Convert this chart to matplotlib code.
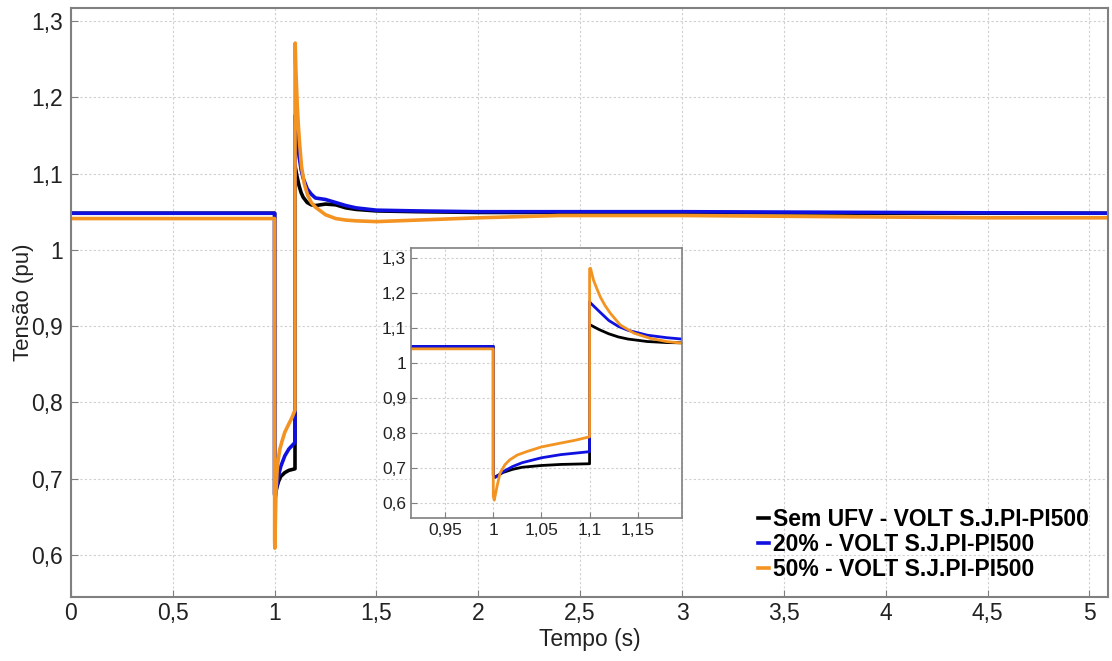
import matplotlib.pyplot as plt
from matplotlib.ticker import FuncFormatter, MultipleLocator

plt.rcParams['font.family'] = ['Liberation Sans', 'DejaVu Sans']

# Sem UFV
t_black = [0, 1.0, 1.0, 1.002, 1.01, 1.02, 1.03, 1.05, 1.07, 1.1, 1.1, 1.101, 1.11, 1.12,
           1.13, 1.14, 1.16, 1.18, 1.2, 1.25, 1.3, 1.35, 1.4, 1.5, 1.7, 2.0, 3.0, 4.0, 5.1]
v_black = [1.048, 1.048, 0.68, 0.675, 0.688, 0.697, 0.703, 0.708, 0.711, 0.713, 1.105, 1.109,
           1.096, 1.084, 1.075, 1.069, 1.062, 1.059, 1.058, 1.060, 1.059, 1.055, 1.053, 1.051,
           1.050, 1.049, 1.049, 1.048, 1.048]

# 20%
t_blue = [0, 1.0, 1.0, 1.002, 1.01, 1.02, 1.03, 1.05, 1.07, 1.1, 1.1, 1.101, 1.11, 1.12,
          1.13, 1.14, 1.16, 1.18, 1.2, 1.25, 1.3, 1.35, 1.4, 1.5, 1.7, 2.0, 3.0, 4.0, 5.1]
v_blue = [1.048, 1.048, 0.68, 0.674, 0.690, 0.705, 0.716, 0.730, 0.739, 0.7475, 1.176, 1.172,
          1.148, 1.122, 1.105, 1.094, 1.080, 1.073, 1.068, 1.066, 1.062, 1.058, 1.055, 1.052,
          1.051, 1.050, 1.050, 1.049, 1.048]

# 50%
t_orange = [0, 1.0, 1.0, 1.001, 1.004, 1.007, 1.012, 1.017, 1.025, 1.035, 1.05, 1.07, 1.085,
            1.1, 1.1, 1.101, 1.104, 1.108, 1.111, 1.116, 1.1215, 1.127, 1.132, 1.14, 1.146,
            1.155, 1.163, 1.18, 1.2, 1.25, 1.3, 1.35, 1.4, 1.5, 1.6, 1.8, 2.0, 2.4, 3.0,
            4.0, 4.5, 5.1]
v_orange = [1.041, 1.041, 0.62, 0.609, 0.65, 0.686, 0.71, 0.724, 0.738, 0.748, 0.761, 0.772,
            0.780, 0.790, 1.27, 1.271, 1.238, 1.21, 1.19, 1.165, 1.143, 1.125, 1.109, 1.096,
            1.086, 1.078, 1.071, 1.062, 1.056, 1.046, 1.041, 1.039, 1.038, 1.037, 1.038,
            1.040, 1.042, 1.045, 1.045, 1.043, 1.042, 1.042]

labels = ['Sem UFV - VOLT S.J.PI-PI500', '20% - VOLT S.J.PI-PI500', '50% - VOLT S.J.PI-PI500']
colors = ['#000000', '#1010e0', '#f39322']

comma = FuncFormatter(lambda v, p: ('%g' % round(v, 6)).replace('.', ','))
grid_kw = dict(color='#cfcfcf', linestyle=(0, (2, 2)), linewidth=0.8)

fig = plt.figure(figsize=(11.12, 6.61), dpi=100)
ax = fig.add_axes([0.0638, 0.0964, 0.9329, 0.8915])

series = [(t_black, v_black), (t_blue, v_blue), (t_orange, v_orange)]
for (t, v), c, lab in zip(series, colors, labels):
    ax.plot(t, v, color=c, linewidth=2.6, label=lab)

ax.set_xlim(0, 5.093)
ax.set_ylim(0.5446, 1.317)
ax.xaxis.set_major_locator(MultipleLocator(0.5))
ax.yaxis.set_major_locator(MultipleLocator(0.1))
ax.xaxis.set_major_formatter(comma)
ax.yaxis.set_major_formatter(comma)
ax.tick_params(direction='in', length=5, labelsize=16.5, color='#808080', labelcolor='#222222')
ax.tick_params(axis='y', pad=6)
ax.grid(True, **grid_kw)
for s in ax.spines.values():
    s.set_color('#808080')
    s.set_linewidth(1.5)
ax.set_xlabel('Tempo (s)', fontsize=16.5, labelpad=2, color='#222222')
ax.set_ylabel('Tensão (pu)', fontsize=16, color='#222222')
ax.yaxis.set_label_coords(-0.036, 0.5)

leg = ax.legend(loc='lower right', bbox_to_anchor=(0.99, 0.012), frameon=False,
                handlelength=0.5, handletextpad=0.15, labelspacing=0.08, borderaxespad=0,
                prop={'weight': 'bold', 'size': 16.5})

# inset zoom
axi = fig.add_axes([0.3696, 0.2163, 0.2437, 0.4085])
for (t, v), c in zip(series, colors):
    axi.plot(t, v, color=c, linewidth=2)
axi.set_xlim(0.9145, 1.196)
axi.set_ylim(0.558, 1.329)
axi.set_xticks([0.95, 1.0, 1.05, 1.1, 1.15])
axi.yaxis.set_major_locator(MultipleLocator(0.1))
axi.xaxis.set_major_formatter(comma)
axi.yaxis.set_major_formatter(comma)
axi.tick_params(direction='in', length=4, labelsize=12.5, color='#808080', labelcolor='#222222')
axi.grid(True, **grid_kw)
for s in axi.spines.values():
    s.set_color('#808080')
    s.set_linewidth(1.2)

fig.savefig('out.png', dpi=100)
